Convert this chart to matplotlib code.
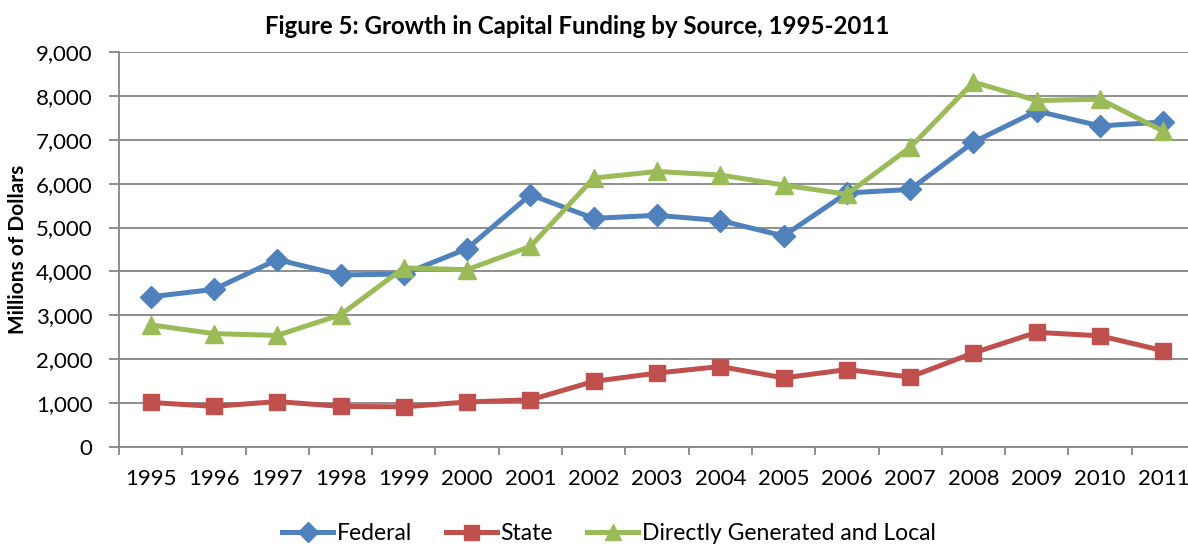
import numpy as np
import matplotlib.pyplot as plt
from matplotlib.ticker import FuncFormatter, MultipleLocator, FixedLocator

plt.rcParams['font.family'] = ['Lato', 'DejaVu Sans']

years = [str(y) for y in range(1995, 2012)]
federal = [3420, 3590, 4270, 3920, 3940, 4520, 5750, 5210,
           5280, 5160, 4810, 5790, 5870, 6950, 7660, 7320, 7410]
state = [1010, 920, 1030, 920, 910, 1020, 1070, 1490,
         1680, 1830, 1570, 1760, 1590, 2140, 2610, 2530, 2190]
local = [2780, 2580, 2540, 3010, 4080, 4040, 4570, 6130,
         6280, 6200, 5970, 5760, 6830, 8320, 7900, 7930, 7200]

series_names = ['Federal', 'State', 'Directly Generated and Local']
colors = ['#4F81BD', '#C0504D', '#9BBB59']
markers = ['D', 's', '^']
msizes = [11, 12, 13]

axis_gray = '#868686'

fig = plt.figure(figsize=(11.88, 5.44), dpi=100)
ax = fig.add_axes([119 / 1188, 1 - 446.7 / 544, 1076 / 1188, 394.4 / 544])

x = np.arange(len(years))
for vals, name, c, m, ms in zip([federal, state, local], series_names, colors, markers, msizes):
    ax.plot(x, vals, color=c, lw=3.6, marker=m, markersize=ms,
            markeredgecolor=c, label=name, zorder=3, clip_on=False)

ax.set_xlim(-0.5, len(years) - 0.5)
ax.set_ylim(0, 9000)
ax.yaxis.set_major_locator(MultipleLocator(1000))
ax.yaxis.set_major_formatter(FuncFormatter(lambda v, p: f'{int(v):,}'))
ax.grid(axis='y', color=axis_gray, lw=1.3, zorder=0)

ax.set_xticks(x)
ax.set_xticklabels(years)
ax.xaxis.set_minor_locator(FixedLocator(np.arange(-0.5, len(years), 1.0)))
ax.tick_params(axis='x', which='major', length=0, pad=16, labelsize=16)
ax.tick_params(axis='x', which='minor', length=6, width=1.3, color=axis_gray)
ax.tick_params(axis='y', length=7, width=1.3, color=axis_gray, pad=12, labelsize=16)

for side in ['top', 'right']:
    ax.spines[side].set_visible(False)
for side in ['left', 'bottom']:
    ax.spines[side].set_color(axis_gray)
    ax.spines[side].set_linewidth(1.3)

ax.set_ylabel('Millions of Dollars', fontsize=15, fontweight='bold')
ax.yaxis.set_label_coords(-0.085, 0.5)

fig.text(577 / 1188, 1 - 27 / 544, 'Figure 5: Growth in Capital Funding by Source, 1995-2011',
         ha='center', va='center', fontsize=17.3, fontweight='bold')

fig.legend(loc='center', bbox_to_anchor=(609 / 1188, 1 - 534 / 544), ncol=3,
           frameon=False, fontsize=16.5, handlelength=2.2, columnspacing=1.5,
           handletextpad=0.17, markerscale=0.9)

fig.savefig('out.png', dpi=100)
